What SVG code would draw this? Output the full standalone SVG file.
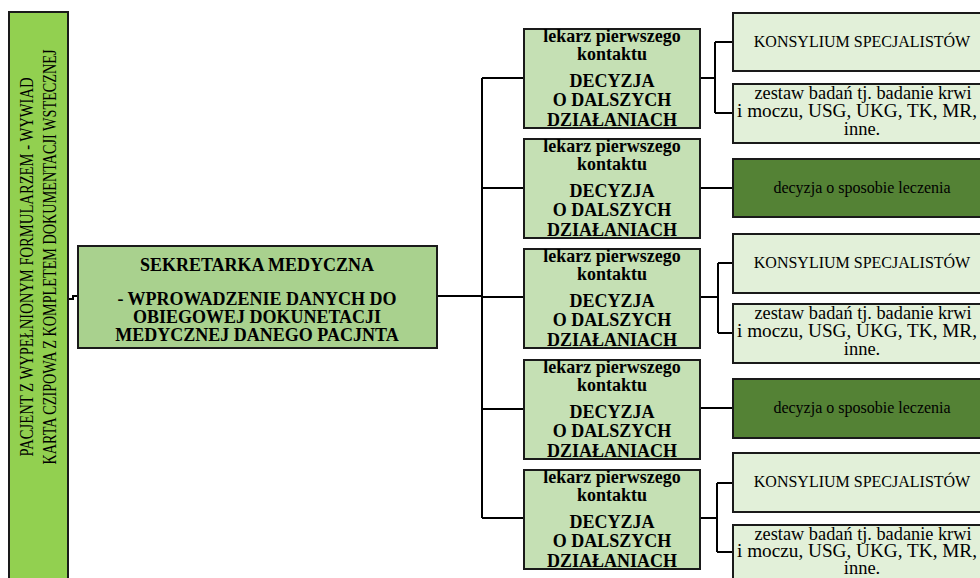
<svg xmlns="http://www.w3.org/2000/svg" width="980" height="578" viewBox="0 0 980 578">
<style>
.bx{stroke:#1a1a1a;stroke-width:2}
.pat{fill:#92d050}
.sek{fill:#a9d18e}
.lek{fill:#c5e0b4}
.lt{fill:#e2f0d9}
.dk{fill:#548235}
.t{font-family:"Liberation Serif","Times New Roman",serif;fill:#000;text-anchor:middle}
.b{font-weight:bold}
.cn{fill:none;stroke:#000;stroke-width:2}
</style>
<rect width="980" height="578" fill="#fff"/>
<g id="connectors">
<path class="cn" d="M68,299 H73 V296 H78"/>
<path class="cn" d="M437,296 H482"/>
<path class="cn" d="M482,78 V518"/>
<path class="cn" d="M482,78 H524 M482,188 H524 M482,297 H524 M482,409 H524 M482,518 H524"/>
<path class="cn" d="M700,78 H715 M715,42 V113 M715,42 H733 M715,113 H733"/>
<path class="cn" d="M700,188 H733"/>
<path class="cn" d="M700,297 H718 M718,263 V333 M718,263 H733 M718,333 H733"/>
<path class="cn" d="M700,408 H733"/>
<path class="cn" d="M700,518 H717 M717,483 V552 M717,483 H733 M717,552 H733"/>
</g>
<g id="pacjent">
<rect class="bx pat" x="9" y="12" width="59" height="580"/>
<text class="t" font-size="18" textLength="379" lengthAdjust="spacingAndGlyphs" transform="translate(33,267) rotate(-90)">PACJENT Z WYPEŁNIONYM FORMULARZEM - WYWIAD</text>
<text class="t" font-size="18" textLength="415" lengthAdjust="spacingAndGlyphs" transform="translate(56,257) rotate(-90)">KARTA CZIPOWA Z KOMPLETEM DOKUMENTACJI WSTECZNEJ</text>
</g>
<g id="sekretarka">
<rect class="bx sek" x="78" y="246" width="359" height="102"/>
<text class="t b" font-size="18" x="257" y="271">SEKRETARKA MEDYCZNA</text>
<text class="t b" font-size="18" x="257" y="305">- WPROWADZENIE DANYCH DO</text>
<text class="t b" font-size="18" x="257" y="323">OBIEGOWEJ DOKUNETACJI</text>
<text class="t b" font-size="18" x="257" y="341">MEDYCZNEJ DANEGO PACJNTA</text>
</g>
<defs>
<g id="lekarz">
<rect class="bx lek" x="524" y="0" width="176" height="99"/>
<text class="t b" font-size="18" x="612" y="13">lekarz pierwszego</text>
<text class="t b" font-size="18" x="612" y="31">kontaktu</text>
<text class="t b" font-size="18" x="612" y="58">DECYZJA</text>
<text class="t b" font-size="18" x="612" y="77">O DALSZYCH</text>
<text class="t b" font-size="18" x="612" y="97">DZIAŁANIACH</text>
</g>
</defs>
<g id="lekarz1"><use href="#lekarz" y="29"/></g>
<g id="lekarz2"><use href="#lekarz" y="139"/></g>
<g id="lekarz3"><use href="#lekarz" y="249"/></g>
<g id="lekarz4"><use href="#lekarz" y="360"/></g>
<g id="lekarz5"><use href="#lekarz" y="470"/></g>
<g id="konsylium1">
<rect class="bx lt" x="733" y="13" width="258" height="58"/>
<text class="t" font-size="16" x="862" y="47">KONSYLIUM SPECJALISTÓW</text>
</g>
<g id="badania1">
<rect class="bx lt" x="733" y="84" width="258" height="59"/>
<text class="t" font-size="18.5" x="863" y="99" textLength="217" lengthAdjust="spacingAndGlyphs">zestaw badań tj. badanie krwi</text>
<text class="t" font-size="18.5" x="857" y="117" textLength="240" lengthAdjust="spacingAndGlyphs">i moczu, USG, UKG, TK, MR,</text>
<text class="t" font-size="18.5" x="862" y="135">inne.</text>
</g>
<g id="decyzja1">
<rect class="bx dk" x="733" y="159" width="258" height="58"/>
<text class="t" font-size="16" x="862" y="193">decyzja o sposobie leczenia</text>
</g>
<g id="konsylium2">
<rect class="bx lt" x="733" y="234" width="258" height="59"/>
<text class="t" font-size="16" x="862" y="268">KONSYLIUM SPECJALISTÓW</text>
</g>
<g id="badania2">
<rect class="bx lt" x="733" y="304" width="258" height="59"/>
<text class="t" font-size="18.5" x="863" y="319" textLength="217" lengthAdjust="spacingAndGlyphs">zestaw badań tj. badanie krwi</text>
<text class="t" font-size="18.5" x="857" y="337" textLength="240" lengthAdjust="spacingAndGlyphs">i moczu, USG, UKG, TK, MR,</text>
<text class="t" font-size="18.5" x="862" y="355">inne.</text>
</g>
<g id="decyzja2">
<rect class="bx dk" x="733" y="379" width="258" height="59"/>
<text class="t" font-size="16" x="862" y="413">decyzja o sposobie leczenia</text>
</g>
<g id="konsylium3">
<rect class="bx lt" x="733" y="453" width="258" height="59"/>
<text class="t" font-size="16" x="862" y="487">KONSYLIUM SPECJALISTÓW</text>
</g>
<g id="badania3">
<rect class="bx lt" x="733" y="525" width="258" height="59"/>
<text class="t" font-size="18.5" x="863" y="540" textLength="217" lengthAdjust="spacingAndGlyphs">zestaw badań tj. badanie krwi</text>
<text class="t" font-size="18.5" x="857" y="557" textLength="240" lengthAdjust="spacingAndGlyphs">i moczu, USG, UKG, TK, MR,</text>
<text class="t" font-size="18.5" x="862" y="574">inne.</text>
</g>
</svg>
